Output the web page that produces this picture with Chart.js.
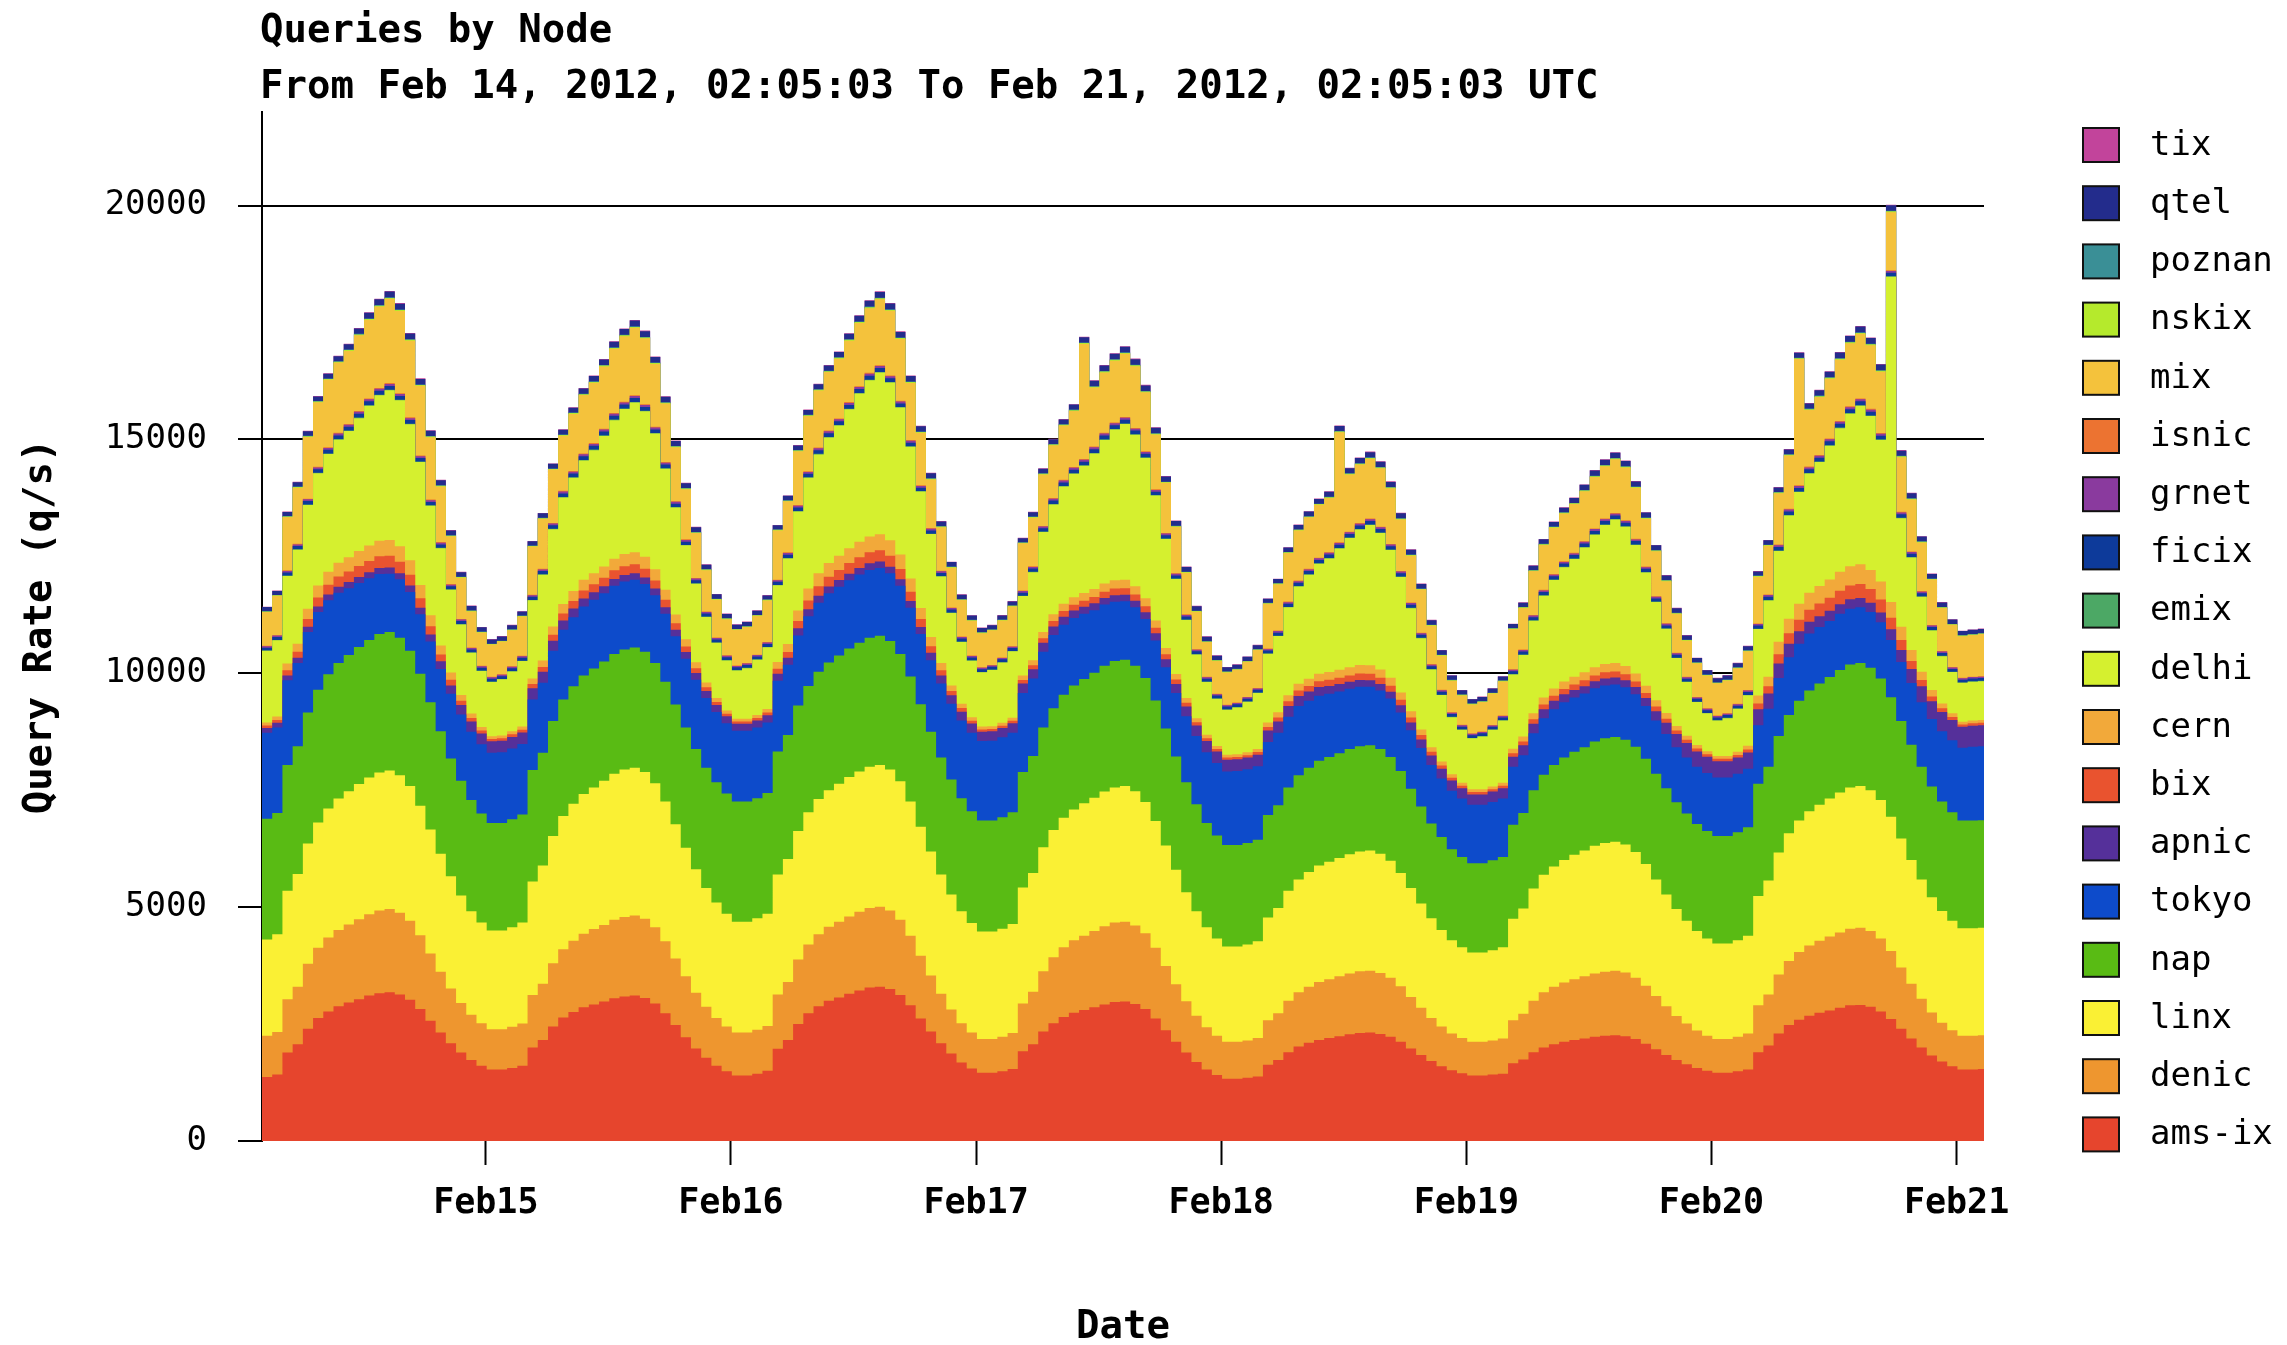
<!DOCTYPE html>
<html>
<head>
<meta charset="utf-8">
<title>Queries by Node</title>
<script src="https://cdn.jsdelivr.net/npm/chart.js@4.4.1/dist/chart.umd.min.js"></script>
<style>
  html, body { margin: 0; padding: 0; background: #fff; }
  canvas { display: block; }
</style>
</head>
<body>
<canvas id="queriesChart" width="2287" height="1345"></canvas>
<script>
// ==================== LABELS ====================
const chartTitle = 'Queries by Node';
const chartSubtitle = 'From Feb 14, 2012, 02:05:03 To Feb 21, 2012, 02:05:03 UTC';
const xTitle = 'Date';
const yTitle = 'Query Rate (q/s)';
const startUtc = Date.UTC(2012, 1, 14, 2, 5, 3);
const dayTicks = ['Feb15', 'Feb16', 'Feb17', 'Feb18', 'Feb19', 'Feb20', 'Feb21'];
const dayTickDates = [15, 16, 17, 18, 19, 20, 21];
const yTicks = [0, 5000, 10000, 15000, 20000];

// stack order, bottom -> top (legend shows it reversed)
const nodeNames = ['ams-ix', 'denic', 'linx', 'nap', 'tokyo', 'apnic', 'bix', 'cern', 'delhi',
                   'emix', 'ficix', 'grnet', 'isnic', 'mix', 'nskix', 'poznan', 'qtel', 'tix'];
const nodeColors = ['#e6452d', '#ee962f', '#faf034', '#59bb14', '#0d4bcb', '#55309a', '#e9532f', '#f2a93a', '#d5f02f',
                    '#4ca865', '#0d3a9a', '#8a3a9e', '#ec7331', '#f4c23c', '#b5ea2c', '#3a8f96', '#232c8c', '#c2449b'];

// ==================== HOURLY RATES (q/s), one value per hour from Feb 14 02:05 UTC ====================
const amsIx = [
  1330,1370,1420,1890,2070,2400,2630,2770,2880,2960,3030,3110,3160,3180,3130,3020,2820,2570,2320,2090,1890,1730,1610,1530,
  1530,1560,1610,2000,2160,2450,2640,2760,2860,2920,2980,3050,3090,3110,3060,2940,2730,2480,2220,1980,1780,1610,1490,1400,
  1400,1440,1500,1970,2160,2500,2730,2880,3000,3070,3150,3220,3280,3300,3250,3120,2900,2620,2340,2090,1870,1680,1550,1460,
  1460,1490,1540,1920,2070,2340,2520,2650,2740,2800,2860,2920,2970,2980,2930,2820,2620,2370,2120,1890,1690,1530,1410,1330,
  1330,1350,1380,1630,1730,1900,2020,2100,2160,2200,2240,2280,2310,2320,2290,2230,2120,1980,1840,1710,1600,1510,1450,1400,
  1400,1420,1440,1660,1740,1900,2000,2070,2120,2160,2190,2230,2250,2260,2240,2180,2080,1960,1840,1730,1640,1560,1500,1460,
  1460,1490,1530,1900,2040,2300,2480,2590,2680,2740,2790,2850,2900,2910,2870,2770,2610,2400,2190,2000,1830,1700,1600,1530,
  1530,1540
];
const denic = [
  860,880,910,1140,1230,1390,1500,1580,1630,1670,1710,1740,1770,1780,1750,1690,1580,1440,1300,1170,1060,970,910,860,
  860,880,900,1120,1200,1350,1460,1520,1570,1610,1640,1680,1700,1710,1690,1630,1540,1420,1300,1190,1090,1020,960,920,
  920,940,960,1160,1240,1380,1470,1540,1580,1620,1650,1680,1700,1710,1680,1610,1490,1340,1200,1060,940,840,770,720,
  720,740,770,1020,1120,1290,1410,1490,1550,1590,1630,1670,1700,1710,1680,1620,1510,1370,1230,1100,990,900,840,790,
  790,800,820,950,1000,1100,1160,1200,1240,1260,1280,1300,1320,1320,1300,1260,1190,1100,1010,920,850,790,750,720,
  720,730,750,920,980,1100,1180,1230,1270,1300,1330,1350,1370,1380,1360,1310,1240,1140,1040,940,870,800,750,720,
  720,740,770,1000,1090,1260,1370,1450,1500,1540,1580,1610,1640,1650,1620,1560,1450,1310,1170,1040,920,830,770,720,
  720,720
];
const linx = [
  2040,2060,2090,2320,2410,2570,2680,2760,2810,2850,2890,2920,2950,2960,2940,2880,2770,2650,2520,2400,2300,2210,2150,2110,
  2110,2130,2160,2430,2530,2720,2850,2930,2990,3030,3080,3120,3150,3160,3140,3080,2990,2870,2750,2640,2540,2470,2410,2370,
  2370,2380,2400,2570,2630,2750,2830,2890,2920,2950,2980,3000,3020,3030,3010,2960,2870,2760,2650,2550,2460,2390,2340,2300,
  2300,2310,2330,2480,2540,2650,2720,2770,2800,2830,2850,2880,2890,2900,2870,2810,2710,2580,2450,2330,2230,2140,2080,2040,
  2040,2050,2070,2200,2250,2350,2410,2450,2490,2510,2530,2550,2560,2570,2550,2500,2420,2330,2230,2130,2060,1990,1940,1910,
  1910,1930,1950,2170,2250,2400,2510,2570,2620,2660,2690,2730,2750,2760,2740,2690,2600,2490,2390,2290,2200,2130,2080,2040,
  2040,2060,2090,2340,2440,2610,2730,2810,2870,2910,2950,2990,3020,3030,3010,2960,2870,2760,2650,2550,2460,2390,2340,2300,
  2300,2300
];
const nap = [
  2570,2580,2590,2690,2730,2800,2840,2870,2900,2910,2930,2940,2960,2960,2940,2890,2820,2720,2620,2520,2450,2380,2330,2300,
  2300,2310,2310,2380,2410,2460,2490,2510,2530,2540,2550,2560,2570,2570,2570,2570,2560,2560,2570,2570,2570,2570,2570,2570,
  2570,2570,2580,2630,2650,2680,2700,2720,2730,2740,2750,2750,2760,2760,2750,2720,2670,2620,2560,2500,2460,2420,2390,2370,
  2370,2380,2390,2470,2500,2560,2600,2630,2650,2660,2670,2690,2700,2700,2680,2650,2580,2500,2420,2350,2290,2230,2200,2170,
  2170,2170,2170,2190,2200,2210,2230,2230,2240,2240,2240,2250,2250,2250,2240,2220,2180,2120,2070,2030,1990,1950,1930,1910,
  1910,1920,1930,2010,2040,2100,2140,2170,2190,2200,2210,2230,2240,2240,2240,2250,2250,2260,2270,2280,2290,2290,2300,2300,
  2300,2310,2320,2400,2430,2490,2530,2560,2580,2590,2600,2620,2630,2630,2620,2600,2560,2510,2460,2410,2370,2340,2320,2300,
  2300,2300
];
const tokyo = [
  1840,1840,1830,1810,1780,1720,1660,1580,1500,1430,1370,1320,1280,1250,1250,1260,1270,1300,1330,1380,1420,1460,1480,1500,
  1510,1510,1510,1510,1500,1500,1490,1480,1480,1470,1460,1460,1450,1450,1450,1450,1450,1460,1470,1480,1490,1500,1500,1510,
  1510,1510,1510,1510,1500,1500,1490,1480,1480,1470,1460,1460,1450,1450,1450,1460,1470,1500,1530,1580,1620,1660,1680,1700,
  1710,1710,1700,1690,1660,1620,1570,1500,1440,1390,1340,1310,1270,1250,1250,1260,1280,1310,1360,1410,1460,1510,1550,1570,
  1580,1580,1570,1560,1550,1510,1480,1430,1390,1350,1320,1290,1270,1250,1250,1250,1250,1250,1250,1250,1250,1250,1250,1250,
  1250,1250,1250,1240,1240,1220,1210,1190,1180,1160,1150,1140,1130,1120,1120,1120,1130,1140,1160,1180,1200,1220,1240,1250,
  1250,1250,1250,1250,1240,1240,1230,1220,1220,1210,1200,1200,1190,1190,1190,1200,1220,1260,1320,1380,1440,1500,1540,1560,
  1580,1580
];
const apnic = [
  100,100,100,105,110,115,120,125,130,130,130,130,130,130,130,135,140,150,165,180,200,220,235,245,
  250,250,245,240,230,215,200,185,170,160,150,145,140,140,140,140,140,140,145,145,150,150,150,150,
  150,150,150,150,150,150,150,150,145,145,140,140,140,140,140,140,145,150,160,170,180,190,195,200,
  200,200,200,200,195,190,180,170,160,150,145,140,140,140,140,145,155,170,190,210,225,240,245,250,
  250,250,250,245,240,230,215,200,185,170,160,150,145,140,140,145,155,170,185,200,210,215,220,220,
  220,220,220,215,210,200,190,180,170,160,155,150,150,150,150,155,170,200,240,280,310,330,345,350,
  350,350,345,340,330,310,290,270,250,230,215,205,200,200,200,210,230,260,300,340,380,410,430,445,
  450,450
];
const bix = [
  50,55,60,110,130,165,190,205,220,225,235,240,250,250,245,230,205,175,145,120,95,75,60,50,
  50,55,55,90,105,130,150,160,170,175,180,185,190,190,185,175,160,140,115,100,80,65,55,50,
  50,55,60,105,125,160,185,200,210,215,225,230,240,240,235,220,200,170,140,115,90,75,60,50,
  50,50,55,75,85,100,115,120,125,130,135,135,140,140,135,130,120,105,95,80,70,60,55,50,
  50,50,55,75,85,100,115,120,125,130,135,135,140,140,135,130,120,105,95,80,70,60,55,50,
  50,50,55,75,80,95,105,110,115,120,125,125,130,130,130,120,110,100,90,75,70,60,55,50,
  50,55,65,125,150,195,225,245,260,270,280,290,295,300,290,275,245,210,170,135,105,80,65,50,
  50,50
];
const cern = [
  60,65,75,145,170,220,255,280,295,305,320,330,335,340,330,310,280,235,195,155,120,95,75,60,
  60,65,70,120,140,175,200,215,230,235,245,250,260,260,255,240,215,185,155,130,105,85,70,60,
  60,65,75,145,170,220,255,280,295,305,320,330,335,340,330,310,280,235,195,155,120,95,75,60,
  60,60,65,95,110,130,145,155,160,165,170,175,180,180,175,170,155,135,120,100,85,75,65,60,
  60,60,65,95,110,130,145,155,160,165,170,175,180,180,175,170,155,135,120,100,85,75,65,60,
  60,60,65,95,110,130,145,155,160,165,170,175,180,180,175,170,155,135,120,100,85,75,65,60,
  60,65,80,170,205,270,310,340,360,375,390,405,415,420,410,385,340,285,235,180,140,105,80,60,
  60,60
];
const delhi = [
  1460,1530,1630,1870,2010,2220,2400,2520,2630,2700,2840,2990,3110,3200,3120,2910,2630,2340,2080,1770,1510,1300,1200,1160,
  1200,1280,1400,1670,1830,2080,2280,2420,2550,2630,2790,2960,3100,3200,3110,2900,2590,2290,2010,1680,1400,1180,1070,1030,
  1080,1180,1320,1640,1830,2120,2370,2540,2680,2780,2970,3170,3340,3460,3370,3140,2820,2490,2200,1850,1550,1320,1210,1160,
  1200,1290,1420,1700,1880,2140,2350,2510,2640,2720,2900,3070,3220,3330,3240,3000,2670,2330,2030,1670,1360,1130,1010,960,
  1000,1080,1200,1470,1630,1880,2080,2220,2350,2430,2590,2760,2900,3000,2920,2730,2470,2200,1950,1660,1420,1220,1130,1090,
  1130,1210,1330,1590,1740,1980,2180,2320,2440,2520,2670,2830,2970,3070,2980,2750,2420,2100,1800,1450,1150,920,810,760,
  810,920,1080,1420,1630,1940,2210,2390,2550,2650,2860,3070,3260,3390,3290,3030,6950,2320,1980,1600,1270,1010,880,830,
  830,830
];
const emix = [
  8,8,8,9,10,10,11,11,12,12,12,12,12,12,12,11,11,10,10,9,9,8,8,8,
  8,8,9,9,10,11,11,12,12,12,13,13,12,12,12,11,11,10,10,9,9,8,8,8,
  8,8,8,9,10,10,11,12,12,12,12,13,13,12,12,11,11,10,10,9,9,9,8,8,
  8,8,8,9,10,10,11,11,11,12,12,12,12,12,11,11,10,10,9,9,9,8,8,8,
  8,8,8,8,9,9,10,10,10,11,11,11,11,11,11,10,10,9,9,9,8,8,8,8,
  8,8,8,8,9,9,10,10,10,10,11,11,11,11,11,10,10,9,9,9,8,8,8,8,
  8,8,8,9,10,10,11,11,12,12,12,12,12,12,12,11,11,10,10,9,9,8,8,8,
  8,8
];
const ficix = [
  60,60,62,66,70,72,74,76,78,80,80,82,82,82,80,78,75,72,70,66,64,62,60,60,
  60,61,62,66,70,73,75,77,78,80,81,82,83,82,80,78,75,72,69,66,64,62,61,60,
  60,60,62,67,71,73,75,77,79,80,81,83,84,83,81,78,75,72,69,66,64,62,61,60,
  60,60,61,65,69,71,73,75,77,78,79,80,81,80,78,76,73,70,68,65,63,61,60,60,
  58,58,59,62,65,67,69,70,71,72,73,74,74,74,73,71,69,67,65,63,61,60,59,58,
  58,58,59,61,64,66,68,69,70,71,72,73,73,73,72,71,69,67,65,63,61,60,59,58,
  58,59,61,66,70,73,75,77,79,80,81,82,83,83,81,79,76,73,70,67,64,62,60,60,
  60,60
];
const grnet = [
  30,30,30,33,35,37,38,40,41,42,42,43,43,43,42,41,40,38,36,34,33,32,31,30,
  30,30,31,33,35,37,39,40,41,42,43,43,44,43,42,41,39,38,36,34,33,32,31,30,
  30,30,31,34,36,38,39,40,41,42,43,44,44,44,43,41,40,38,36,34,33,32,31,30,
  30,30,30,33,35,36,38,39,40,41,41,42,42,42,41,40,38,37,35,34,32,31,31,30,
  29,29,29,31,33,34,35,36,37,37,38,38,38,38,37,36,35,34,33,32,31,30,30,29,
  29,29,29,31,32,33,34,35,36,37,37,38,38,38,37,36,35,34,33,32,31,30,30,29,
  29,30,31,34,36,38,39,40,41,42,43,43,44,44,43,41,40,38,36,34,33,32,31,30,
  30,30
];
const isnic = [
  10,10,10,12,13,14,15,16,16,17,17,18,18,18,17,17,16,15,14,13,12,11,11,10,
  10,10,11,12,13,14,15,16,17,17,18,18,18,18,17,17,16,15,14,13,12,11,11,10,
  10,10,11,12,14,15,16,16,17,17,18,18,19,18,18,17,16,15,14,13,12,11,11,10,
  10,10,10,12,13,14,15,15,16,16,17,17,17,17,16,16,15,14,13,12,12,11,10,10,
  10,10,10,11,12,12,13,13,14,14,14,15,15,15,14,14,13,13,12,12,11,11,10,10,
  10,10,10,11,12,12,13,13,14,14,14,15,15,15,14,14,13,13,12,12,11,11,10,10,
  10,10,11,12,14,15,16,16,17,17,18,18,18,18,17,17,16,15,14,13,12,11,11,10,
  10,10
];
const mix = [
  620,720,840,1140,1200,1320,1380,1440,1500,1560,1620,1680,1740,1800,1760,1640,1490,1330,1190,1020,880,770,710,690,
  700,770,840,1030,1070,1140,1180,1220,1250,1290,1330,1370,1400,1440,1410,1340,1250,1150,1070,960,880,810,770,760,
  770,830,890,1050,1090,1150,1180,1220,1250,1280,1310,1350,1380,1410,1380,1320,1220,1120,1040,930,850,780,740,730,
  740,790,850,1010,1040,1100,1130,1160,1200,2460,1260,1290,1320,1350,1320,1260,1170,1070,990,890,800,740,700,690,
  700,750,810,960,990,1040,1070,1100,1130,1160,2350,1220,1250,1280,1250,1190,1100,1000,920,820,730,670,630,620,
  630,670,730,860,890,940,960,990,1020,1040,1070,1100,1120,1150,1130,1090,1020,960,900,830,770,720,700,690,
  700,760,830,1000,1040,1100,1140,2700,1210,1240,1280,1310,1350,1380,1360,1310,1240,1170,1110,1040,970,920,900,890,
  890,900
];
const nskix = [
  12,12,12,13,14,15,16,17,18,18,19,20,20,20,20,19,18,17,16,15,14,13,13,12,
  12,12,12,13,14,15,16,17,18,19,19,20,20,20,19,19,18,17,16,15,14,13,13,12,
  12,12,13,14,15,16,17,18,18,19,20,20,21,20,20,19,18,17,16,15,14,13,13,12,
  12,12,12,13,14,15,16,16,17,18,18,19,19,19,19,18,17,16,15,14,14,13,12,12,
  12,12,12,12,13,14,14,15,15,16,16,17,17,17,17,16,16,15,14,14,13,13,12,12,
  12,12,12,12,13,14,14,15,15,16,16,17,17,17,17,16,16,15,14,14,13,13,12,12,
  12,12,13,14,15,16,17,18,18,19,19,20,20,20,20,19,18,17,16,15,14,13,13,12,
  12,12
];
const poznan = [
  8,8,8,9,10,10,11,11,12,12,12,12,12,12,12,11,11,10,10,9,9,8,8,8,
  8,8,8,9,10,10,11,11,12,12,12,12,12,12,12,11,11,10,10,9,9,8,8,8,
  8,8,8,9,10,11,11,12,12,12,12,13,13,12,12,11,11,10,10,9,9,8,8,8,
  8,8,8,9,10,10,11,11,11,12,12,12,12,12,11,11,10,10,9,9,9,8,8,8,
  8,8,8,8,9,9,10,10,10,10,11,11,11,11,10,10,10,9,9,9,8,8,8,8,
  8,8,8,8,9,9,10,10,10,10,11,11,11,11,10,10,10,9,9,9,8,8,8,8,
  8,8,8,9,10,10,11,11,12,12,12,12,12,12,12,11,11,10,10,9,9,8,8,8,
  8,8
];
const qtel = [
  90,88,86,88,92,96,100,104,108,112,116,120,122,124,124,122,118,112,106,100,96,94,92,90,
  90,88,87,89,93,97,101,105,109,113,117,120,122,123,123,121,117,111,105,100,96,94,92,90,
  90,89,87,89,93,98,102,106,110,114,118,121,123,125,124,122,118,112,106,101,97,94,92,90,
  90,88,86,88,92,96,100,103,107,111,114,117,119,120,120,118,114,109,104,99,95,93,91,90,
  89,87,85,86,89,92,95,98,101,104,107,109,111,112,112,110,107,103,99,96,93,91,90,89,
  89,87,85,86,89,92,95,98,101,104,107,109,111,112,112,110,107,103,99,96,93,91,90,89,
  89,88,87,89,93,97,101,105,109,113,117,120,122,124,124,122,118,112,106,100,96,94,92,90,
  90,90
];
const tix = [
  8,8,8,8,9,9,10,10,10,11,11,11,12,12,12,12,11,11,10,10,9,9,8,8,
  8,8,8,8,9,9,10,10,10,11,11,11,12,12,12,12,11,11,10,10,9,9,8,8,
  8,8,8,8,9,9,10,10,11,11,11,12,12,12,12,12,11,11,10,10,9,9,8,8,
  8,8,8,8,9,9,10,10,10,11,11,11,11,12,12,11,11,10,10,10,9,9,8,8,
  8,8,8,8,8,9,9,9,10,10,10,10,11,11,11,11,10,10,10,9,9,8,8,8,
  8,8,8,8,8,9,9,9,10,10,10,10,11,11,11,11,10,10,10,9,9,8,8,8,
  8,8,8,8,9,9,10,10,10,11,11,11,12,12,12,12,11,11,10,10,9,9,8,8,
  8,8
];

const nodeSeries = [amsIx, denic, linx, nap, tokyo, apnic, bix, cern, delhi,
                    emix, ficix, grnet, isnic, mix, nskix, poznan, qtel, tix];

// ==================== CHART ====================
const FONT = '"DejaVu Sans Mono", "Liberation Mono", monospace';
const tickHours = dayTickDates.map(d => (Date.UTC(2012, 1, d) - startUtc) / 3600000);

const datasets = nodeNames.map((name, i) => ({
    label: name,
    data: nodeSeries[i].map((v, h) => ({ x: h, y: v })),
    backgroundColor: nodeColors[i],
    borderColor: 'rgba(0,0,0,0)',
    borderWidth: 0,
    pointRadius: 0,
    stepped: 'after',
    fill: 'origin'
}));

// titles, axis titles and the boxed legend on the right
const decorPlugin = {
    id: 'decor',
    afterDraw(chart) {
        const ctx = chart.ctx;
        const area = chart.chartArea;
        ctx.save();
        ctx.fillStyle = '#000';
        ctx.textAlign = 'left';
        ctx.textBaseline = 'alphabetic';
        ctx.font = 'bold 39px ' + FONT;
        ctx.fillText(chartTitle, 260, 42);
        ctx.fillText(chartSubtitle, 260, 98);

        ctx.textAlign = 'center';
        ctx.fillText(xTitle, (area.left + area.right) / 2, 1338);
        ctx.save();
        ctx.translate(51, (area.top + area.bottom) / 2);
        ctx.rotate(-Math.PI / 2);
        ctx.fillText(yTitle, 0, 0);
        ctx.restore();

        const sets = chart.data.datasets;
        ctx.font = '34px ' + FONT;
        ctx.textAlign = 'left';
        ctx.textBaseline = 'middle';
        for (let row = 0; row < sets.length; row++) {
            const ds = sets[sets.length - 1 - row];
            const cy = 145 + row * 58.2;
            ctx.fillStyle = ds.backgroundColor;
            ctx.fillRect(2083, cy - 17, 36, 34);
            ctx.lineWidth = 2;
            ctx.strokeStyle = '#111';
            ctx.strokeRect(2083, cy - 17, 36, 34);
            ctx.fillStyle = '#000';
            ctx.fillText(ds.label, 2150, cy + 1);
        }
        ctx.restore();
    }
};

new Chart(document.getElementById('queriesChart'), {
    type: 'line',
    data: { datasets },
    plugins: [decorPlugin],
    options: {
        responsive: false,
        animation: false,
        devicePixelRatio: 1,
        layout: { padding: { top: 112, right: 303, left: 0, bottom: 0 } },
        plugins: {
            legend: { display: false },
            title: { display: false },
            tooltip: { enabled: false },
            filler: { propagate: false }
        },
        scales: {
            x: {
                type: 'linear',
                min: 0,
                max: 168.6,
                grid: { display: true, drawOnChartArea: false, drawTicks: true, tickLength: 24, tickColor: '#000', tickWidth: 2 },
                border: { display: false },
                ticks: {
                    autoSkip: false,
                    maxRotation: 0,
                    padding: 18,
                    color: '#000',
                    font: { family: FONT, size: 35, weight: 'bold' },
                    callback: (v, i) => dayTicks[i]
                },
                afterBuildTicks: scale => { scale.ticks = tickHours.map(v => ({ value: v })); },
                afterFit: scale => { scale.height = 204; }
            },
            y: {
                stacked: true,
                min: 0,
                max: 22000,
                grid: {
                    color: c => (c.tick && c.tick.value === 0) ? 'rgba(0,0,0,0)' : '#000',
                    lineWidth: 2,
                    tickLength: 24,
                    tickColor: '#000',
                    tickWidth: 2
                },
                border: { display: true, color: '#000', width: 2 },
                ticks: {
                    padding: 31,
                    color: '#000',
                    font: { family: FONT, size: 34 },
                    callback: v => String(v)
                },
                afterBuildTicks: scale => { scale.ticks = yTicks.map(v => ({ value: v })); },
                afterFit: scale => { scale.width = 262; }
            }
        }
    }
});
</script>
</body>
</html>
